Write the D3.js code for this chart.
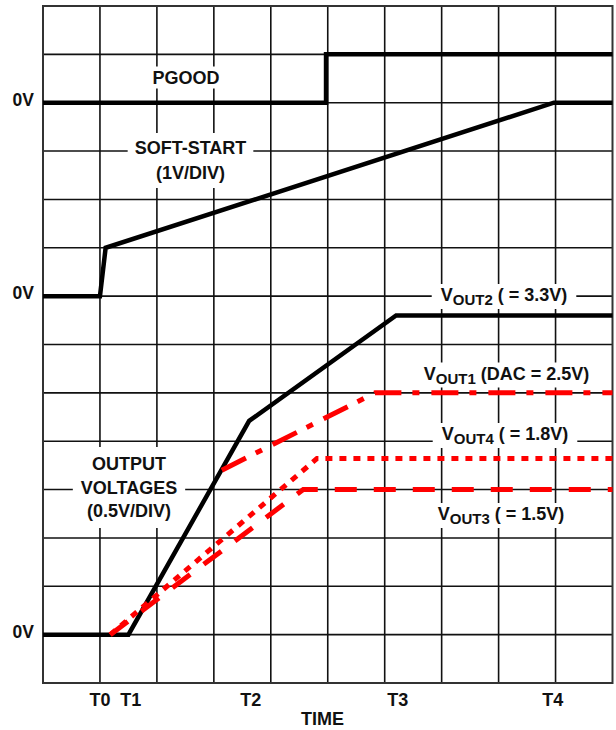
<!DOCTYPE html>
<html>
<head>
<meta charset="utf-8">
<script src="https://cdn.jsdelivr.net/npm/d3@7"></script>
<style>
  body { margin: 0; background: #fff; }
  text { font-family: "Liberation Sans", Arial, sans-serif; font-weight: bold; fill: #111; }
</style>
</head>
<body>
<svg id="chart"></svg>
<script>
// grid divisions
const colCount = 10;
const rowCount = 14;

// time markers along the bottom
const timeLabels = ["T0", "T1", "T2", "T3", "T4"];
const timeTicks = [0.99, 1.53, 3.64, 6.22, 8.94];

// traces: [time (div), value]
const pgood = [[0, 0], [4.97, 0], [4.97, 1], [10, 1]];
const softStart = [[0, 0], [1.0, 0], [1.1, 1], [8.97, 4], [10, 4]];
const vout2 = [[0, 0], [1.5, 0], [3.62, 2.21], [6.2, 3.3], [10, 3.3]];
const vout1 = [[3.14, 1.70], [5.83, 2.5], [10, 2.5]];
const vout4 = [[1.18, 0], [4.81, 1.82], [10, 1.82]];
const vout3 = [[1.18, 0], [4.57, 1.5], [10, 1.5]];

const W = 616, H = 730;
const svg = d3.select("#chart").attr("width", W).attr("height", H);

const x = d3.scaleLinear().domain([0, colCount]).range([43, 612.5]);
const y = d3.scaleLinear().domain([0, rowCount]).range([683, 6]);

// each channel has its own zero line and volts/div
const yOut = d3.scaleLinear().domain([0, 0.5]).range([y(1), y(2)]);
const ySoft = d3.scaleLinear().domain([0, 1]).range([y(8), y(9)]);
const yPg = d3.scaleLinear().domain([0, 1]).range([y(12), y(13)]);

// grid
const grid = svg.append("g");
grid.selectAll(".vl").data(d3.range(1, colCount)).enter().append("line")
  .attr("x1", d => x(d)).attr("x2", d => x(d))
  .attr("y1", y(0)).attr("y2", y(rowCount))
  .attr("stroke", "#111").attr("stroke-width", 1.6);
grid.selectAll(".hl").data(d3.range(1, rowCount)).enter().append("line")
  .attr("x1", x(0)).attr("x2", x(colCount))
  .attr("y1", d => y(d)).attr("y2", d => y(d))
  .attr("stroke", "#111").attr("stroke-width", 1.6);
grid.append("rect")
  .attr("x", x(0)).attr("y", y(rowCount))
  .attr("width", x(colCount) - x(0)).attr("height", y(0) - y(rowCount))
  .attr("fill", "none").attr("stroke", "#333").attr("stroke-width", 2);

// labels sit on white knock-out boxes
const boxLayer = svg.append("g");
const traceLayer = svg.append("g");
const textLayer = svg.append("g");

function label(lines, cx, baseline, lineH, pad) {
  const t = textLayer.append("text")
    .attr("text-anchor", "middle").attr("font-size", 18);
  lines.forEach((ln, i) => {
    const row = t.append("tspan").attr("x", cx).attr("y", baseline + i * lineH);
    if (typeof ln === "string") {
      row.text(ln);
    } else {
      row.text(ln[0]);
      t.append("tspan").attr("font-size", 15).attr("dy", 4).text(ln[1]);
      t.append("tspan").attr("dy", -4).text(ln[2]);
    }
  });
  const b = t.node().getBBox();
  boxLayer.append("rect")
    .attr("x", b.x - pad[0]).attr("y", b.y - pad[1])
    .attr("width", b.width + pad[0] * 2).attr("height", b.height + pad[1] * 2)
    .attr("fill", "#fff");
}

label(["PGOOD"], 186, 83.5, 0, [7, 1]);
label(["SOFT-START", "(1V/DIV)"], 190.5, 154, 25, [7, 5]);
label(["OUTPUT", "VOLTAGES", "(0.5V/DIV)"], 129, 470, 23.5, [8, 7]);
label([["V", "OUT2", " ( = 3.3V)"]], 504, 301, 0, [9, 1]);
label([["V", "OUT1", " (DAC = 2.5V)"]], 506.5, 379.5, 0, [6, 1]);
label([["V", "OUT4", " ( = 1.8V)"]], 505, 440, 0, [9, 1]);
label([["V", "OUT3", " ( = 1.5V)"]], 501, 520, 0, [9, 1]);

// traces
function trace(data, ys, color, width, dash) {
  const line = d3.line().x(d => x(d[0])).y(d => ys(d[1]));
  traceLayer.append("path")
    .attr("d", line(data))
    .attr("fill", "none")
    .attr("stroke", color)
    .attr("stroke-width", width)
    .attr("stroke-dasharray", dash || null);
}

trace(pgood, yPg, "#000", 4.5);
trace(softStart, ySoft, "#000", 4.5);
trace(vout2, yOut, "#000", 4.5);
trace(vout1, yOut, "#ff0000", 5, "27,11,7,12");
trace(vout3, yOut, "#ff0000", 5, "22,17");
trace(vout4, yOut, "#ff0000", 5, "7,7");

// zero-volt markers
const zeros = [yPg(0), ySoft(0), yOut(0)];
textLayer.selectAll(".zero").data(zeros).enter().append("text")
  .attr("x", 34).attr("y", d => d + 3).attr("text-anchor", "end")
  .attr("font-size", 17.5).text("0V");

// time axis
const axis = d3.axisBottom(x).tickValues(timeTicks)
  .tickFormat((d, i) => timeLabels[i]).tickSize(0).tickPadding(0);
const ax = svg.append("g").attr("transform", `translate(0,${y(0)})`).call(axis);
ax.select(".domain").remove();
ax.selectAll("text")
  .attr("y", 23).attr("dy", 0)
  .attr("font-size", 18)
  .style("font-family", "'Liberation Sans', Arial, sans-serif")
  .style("font-weight", "bold").attr("fill", "#111");

textLayer.append("text")
  .attr("x", 322.5).attr("y", 725).attr("text-anchor", "middle")
  .attr("font-size", 18).text("TIME");
</script>
</body>
</html>
